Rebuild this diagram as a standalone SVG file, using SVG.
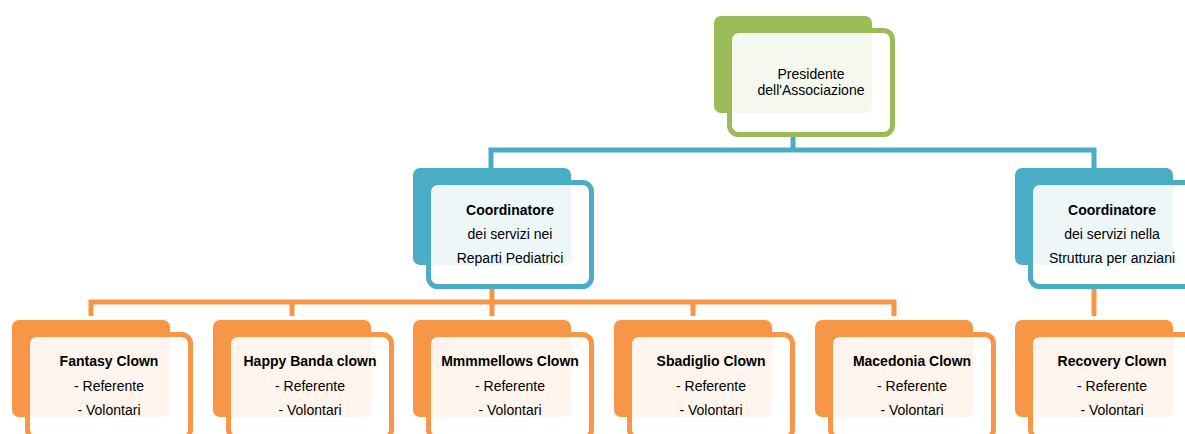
<svg xmlns="http://www.w3.org/2000/svg" width="1185" height="434" viewBox="0 0 1185 434">
<style>
.t{font-family:"Liberation Sans",Arial,sans-serif;font-size:14px;fill:#000;text-anchor:middle}
.b{font-weight:bold}
.front{fill:#fff;fill-opacity:0.9;stroke-width:5}
.g .back{fill:#9BBB59}.g .front{stroke:#9BBB59}
.bl .back{fill:#4BACC6}.bl .front{stroke:#4BACC6}
.o .back{fill:#F79646}.o .front{stroke:#F79646}
.cb{fill:none;stroke:#4BACC6;stroke-width:5}
.co{fill:none;stroke:#F79646;stroke-width:5}
</style>
<rect width="1185" height="434" fill="#fff"/>
<g id="connectors">
<path class="cb" d="M491,168 V150 H1094 V168 M793,130 V150"/>
<path class="co" d="M91,316 V302 H894 V316 M292,302 V316 M492,302 V316 M693,302 V316 M492,284 V302"/>
<path class="co" d="M1094,284 V316"/>
</g>
<g id="presidente" class="g">
<rect class="back" x="714" y="16" width="158" height="97" rx="7"/>
<rect class="front" x="729.5" y="30.5" width="163" height="104" rx="9"/>
<text class="t" x="811" y="79">Presidente</text>
<text class="t" x="811" y="95">dell'Associazione</text>
</g>
<g id="coord-pediatrici" class="bl">
<rect class="back" x="413" y="168" width="158" height="97" rx="7"/>
<rect class="front" x="428.5" y="182.5" width="163" height="104" rx="9"/>
<text class="t b" x="510" y="215">Coordinatore</text>
<text class="t" x="510" y="239">dei servizi nei</text>
<text class="t" x="510" y="263">Reparti Pediatrici</text>
</g>
<g id="coord-anziani" class="bl">
<rect class="back" x="1015" y="168" width="158" height="97" rx="7"/>
<rect class="front" x="1030.5" y="182.5" width="163" height="104" rx="9"/>
<text class="t b" x="1112" y="215">Coordinatore</text>
<text class="t" x="1112" y="239">dei servizi nella</text>
<text class="t" x="1112" y="263">Struttura per anziani</text>
</g>
<g id="fantasy" class="o">
<rect class="back" x="12" y="320" width="158" height="97" rx="7"/>
<rect class="front" x="27.5" y="334.5" width="163" height="104" rx="9"/>
<text class="t b" x="109" y="366">Fantasy Clown</text>
<text class="t" x="109" y="391">- Referente</text>
<text class="t" x="109" y="415">- Volontari</text>
</g>
<g id="happy-banda" class="o">
<rect class="back" x="213" y="320" width="158" height="97" rx="7"/>
<rect class="front" x="228.5" y="334.5" width="163" height="104" rx="9"/>
<text class="t b" x="310" y="366">Happy Banda clown</text>
<text class="t" x="310" y="391">- Referente</text>
<text class="t" x="310" y="415">- Volontari</text>
</g>
<g id="mmmmellows" class="o">
<rect class="back" x="413" y="320" width="158" height="97" rx="7"/>
<rect class="front" x="428.5" y="334.5" width="163" height="104" rx="9"/>
<text class="t b" x="510" y="366">Mmmmellows Clown</text>
<text class="t" x="510" y="391">- Referente</text>
<text class="t" x="510" y="415">- Volontari</text>
</g>
<g id="sbadiglio" class="o">
<rect class="back" x="614" y="320" width="158" height="97" rx="7"/>
<rect class="front" x="629.5" y="334.5" width="163" height="104" rx="9"/>
<text class="t b" x="711" y="366">Sbadiglio Clown</text>
<text class="t" x="711" y="391">- Referente</text>
<text class="t" x="711" y="415">- Volontari</text>
</g>
<g id="macedonia" class="o">
<rect class="back" x="815" y="320" width="158" height="97" rx="7"/>
<rect class="front" x="830.5" y="334.5" width="163" height="104" rx="9"/>
<text class="t b" x="912" y="366">Macedonia Clown</text>
<text class="t" x="912" y="391">- Referente</text>
<text class="t" x="912" y="415">- Volontari</text>
</g>
<g id="recovery" class="o">
<rect class="back" x="1015" y="320" width="158" height="97" rx="7"/>
<rect class="front" x="1030.5" y="334.5" width="163" height="104" rx="9"/>
<text class="t b" x="1112" y="366">Recovery Clown</text>
<text class="t" x="1112" y="391">- Referente</text>
<text class="t" x="1112" y="415">- Volontari</text>
</g>
</svg>
